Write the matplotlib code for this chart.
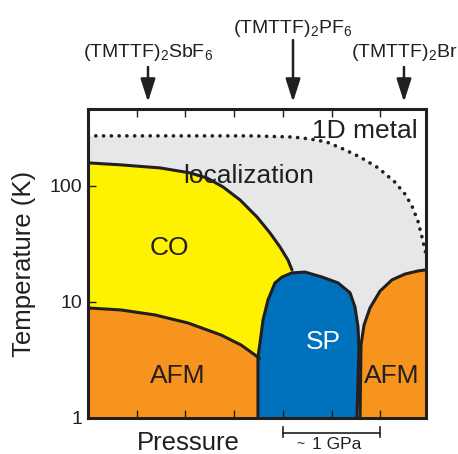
"""Schematic pressure-temperature phase diagram of the (TMTTF)2X salts."""

import matplotlib
matplotlib.use("Agg")
import matplotlib.pyplot as plt
from matplotlib.ticker import NullLocator

plt.rcParams['font.family'] = ['Liberation Sans', 'DejaVu Sans']
plt.rcParams['mathtext.fontset'] = 'custom'
plt.rcParams['mathtext.rm'] = 'Liberation Sans'
plt.rcParams['mathtext.default'] = 'rm'

# Pressure in GPa (relative, arbitrary origin), temperature in K
# 1D metal / localization crossover (dotted)
LOC_P = [0, 1.66, 2.10, 2.28, 2.45, 2.62, 2.79, 2.98, 3.15, 3.26, 3.33,
         3.39, 3.43, 3.46, 3.47]
LOC_T = [270, 270, 264, 254, 239, 208, 178, 143, 108, 84, 66, 49, 36, 28, 26]

# charge order boundary
CO_P = [0, 0.329, 0.739, 1.047, 1.222, 1.386, 1.561, 1.735, 1.869, 1.971,
        2.053, 2.094]
CO_T = [158, 152, 143, 129.5, 117, 98, 75.7, 54.0, 39.3, 29.8, 23.0, 18.9]

# AFM (low pressure) / CO boundary
AFM_P = [0, 0.339, 0.688, 1.027, 1.366, 1.571, 1.715, 1.76]
AFM_T = [8.88, 8.53, 7.73, 6.59, 5.19, 4.26, 3.49, 3.25]

# spin-Peierls dome
SP_P = [1.745, 1.745, 1.745, 1.766, 1.797, 1.848, 1.920, 1.992, 2.094,
        2.228, 2.402, 2.567, 2.690, 2.741, 2.772, 2.782, 2.772, 2.762]
SP_T = [1, 1.74, 3.36, 4.43, 7.0, 10.4, 14.6, 16.4, 17.8, 18.1, 16.4,
        14.6, 12.0, 9.05, 6.09, 4.09, 2.13, 1]

# AFM (high pressure) dome
RAFM_P = [2.793, 2.803, 2.834, 2.895, 2.998, 3.121, 3.255, 3.388, 3.47]
RAFM_T = [1, 4.26, 6.33, 8.88, 12.4, 15.5, 17.4, 18.5, 18.9]

# compounds marked on top: name, pressure, arrow start, label y (axes frac)
COMPOUNDS = [r'(TMTTF)$_2$SbF$_6$', r'(TMTTF)$_2$PF$_6$', r'(TMTTF)$_2$Br']
COMPOUND_P = [0.616, 2.105, 3.244]
ARROW_TOP = [1.136, 1.223, 1.136]
LABEL_Y = [1.168, 1.246, 1.168]

P_MAX = 3.47
T_MIN, T_MAX = 1, 460

INK = '#231F20'
GRAY = '#E6E7E8'
YELLOW = '#FFF200'
ORANGE = '#F7941D'
BLUE = '#0071BC'
LW = 2.2

fig = plt.figure(figsize=(4.58, 4.54), dpi=100)
ax = fig.add_axes([0.1921, 0.0793, 0.738, 0.6806])
ax.set_yscale('log')
ax.set_xlim(0, P_MAX)
ax.set_ylim(T_MIN, T_MAX)

# filled regions, back to front
ax.fill_between(LOC_P, T_MIN, LOC_T, color=GRAY, lw=0)
ax.fill(CO_P + [CO_P[-1], 0], CO_T + [T_MIN, T_MIN], color=YELLOW, lw=0)
ax.fill(AFM_P + [SP_P[0], 0], AFM_T + [T_MIN, T_MIN], color=ORANGE, lw=0)
ax.fill(SP_P, SP_T, color=BLUE, lw=0)
ax.fill(RAFM_P + [P_MAX], RAFM_T + [T_MIN], color=ORANGE, lw=0)

# boundaries
ax.plot(LOC_P, LOC_T, color=INK, lw=2.6,
        linestyle=(0, (0.05, 2.1)), dash_capstyle='round')
for xs, ys in [(CO_P, CO_T), (AFM_P, AFM_T), (SP_P, SP_T),
               (RAFM_P, RAFM_T)]:
    ax.plot(xs, ys, color=INK, lw=LW, solid_capstyle='round',
            solid_joinstyle='round')

# region labels
fs = 19
ax.text(2.844, 259, '1D metal', ha='center', va='baseline', fontsize=fs,
        color=INK)
ax.text(1.653, 106, 'localization', ha='center', va='baseline',
        fontsize=fs, color=INK)
ax.text(0.832, 25.4, 'CO', ha='center', va='baseline', fontsize=fs,
        color=INK)
ax.text(0.924, 2.0, 'AFM', ha='center', va='baseline', fontsize=fs,
        color=INK)
ax.text(2.413, 3.93, 'SP', ha='center', va='baseline', fontsize=fs,
        color='white')
ax.text(3.121, 2.0, 'AFM', ha='center', va='baseline', fontsize=fs,
        color=INK)

# axes styling
for s in ax.spines.values():
    s.set_linewidth(LW)
    s.set_color(INK)
    s.set_zorder(5)
ax.set_xticks([0.5, 1.0, 1.5, 2.0, 2.5, 3.0])
ax.set_yticks([1, 10, 100])
ax.set_yticklabels(['1', '10', '100'])
ax.yaxis.set_minor_locator(NullLocator())
ax.xaxis.set_minor_locator(NullLocator())
ax.tick_params(axis='x', direction='in', top=True, length=6, width=1,
               labelbottom=False, color=INK)
ax.tick_params(axis='y', direction='in', length=6, width=1, pad=4,
               labelsize=14, color=INK, labelcolor=INK)

ax.set_ylabel('Temperature (K)', fontsize=18.5, color=INK)
ax.yaxis.set_label_coords(-0.155, 0.5)
trans = ax.get_xaxis_transform()
ax.text(1.027, -0.1036, 'Pressure', transform=trans,
        ha='center', va='baseline', fontsize=18.5, color=INK,
        clip_on=False)

# 1 GPa scale bar
ax.plot([2.0, 3.0], [-0.0485, -0.0485], transform=trans, color=INK,
        lw=1.2, clip_on=False)
for p in (2.0, 3.0):
    ax.plot([p, p], [-0.029, -0.061], transform=trans, color=INK,
            lw=1.2, clip_on=False)
ax.text(2.18, -0.083, '~', transform=trans, ha='center', va='center',
        fontsize=10, color=INK, clip_on=False)
ax.text(2.30, -0.1003, '1 GPa', transform=trans, ha='left', va='baseline',
        fontsize=12.5, color=INK, clip_on=False)

# compound markers
for name, p, top, ly in zip(COMPOUNDS, COMPOUND_P, ARROW_TOP, LABEL_Y):
    ax.annotate('', xy=(p, 1.0227), xycoords=trans,
                xytext=(p, top), textcoords=trans,
                arrowprops=dict(arrowstyle='-|>,head_length=1.0,head_width=0.32',
                                mutation_scale=14, lw=1.8, color=INK,
                                shrinkA=0, shrinkB=0))
    ax.text(p, ly, name, transform=trans, ha='center', va='baseline',
            fontsize=14, color=INK, clip_on=False)

fig.savefig('out.png', dpi=100)
